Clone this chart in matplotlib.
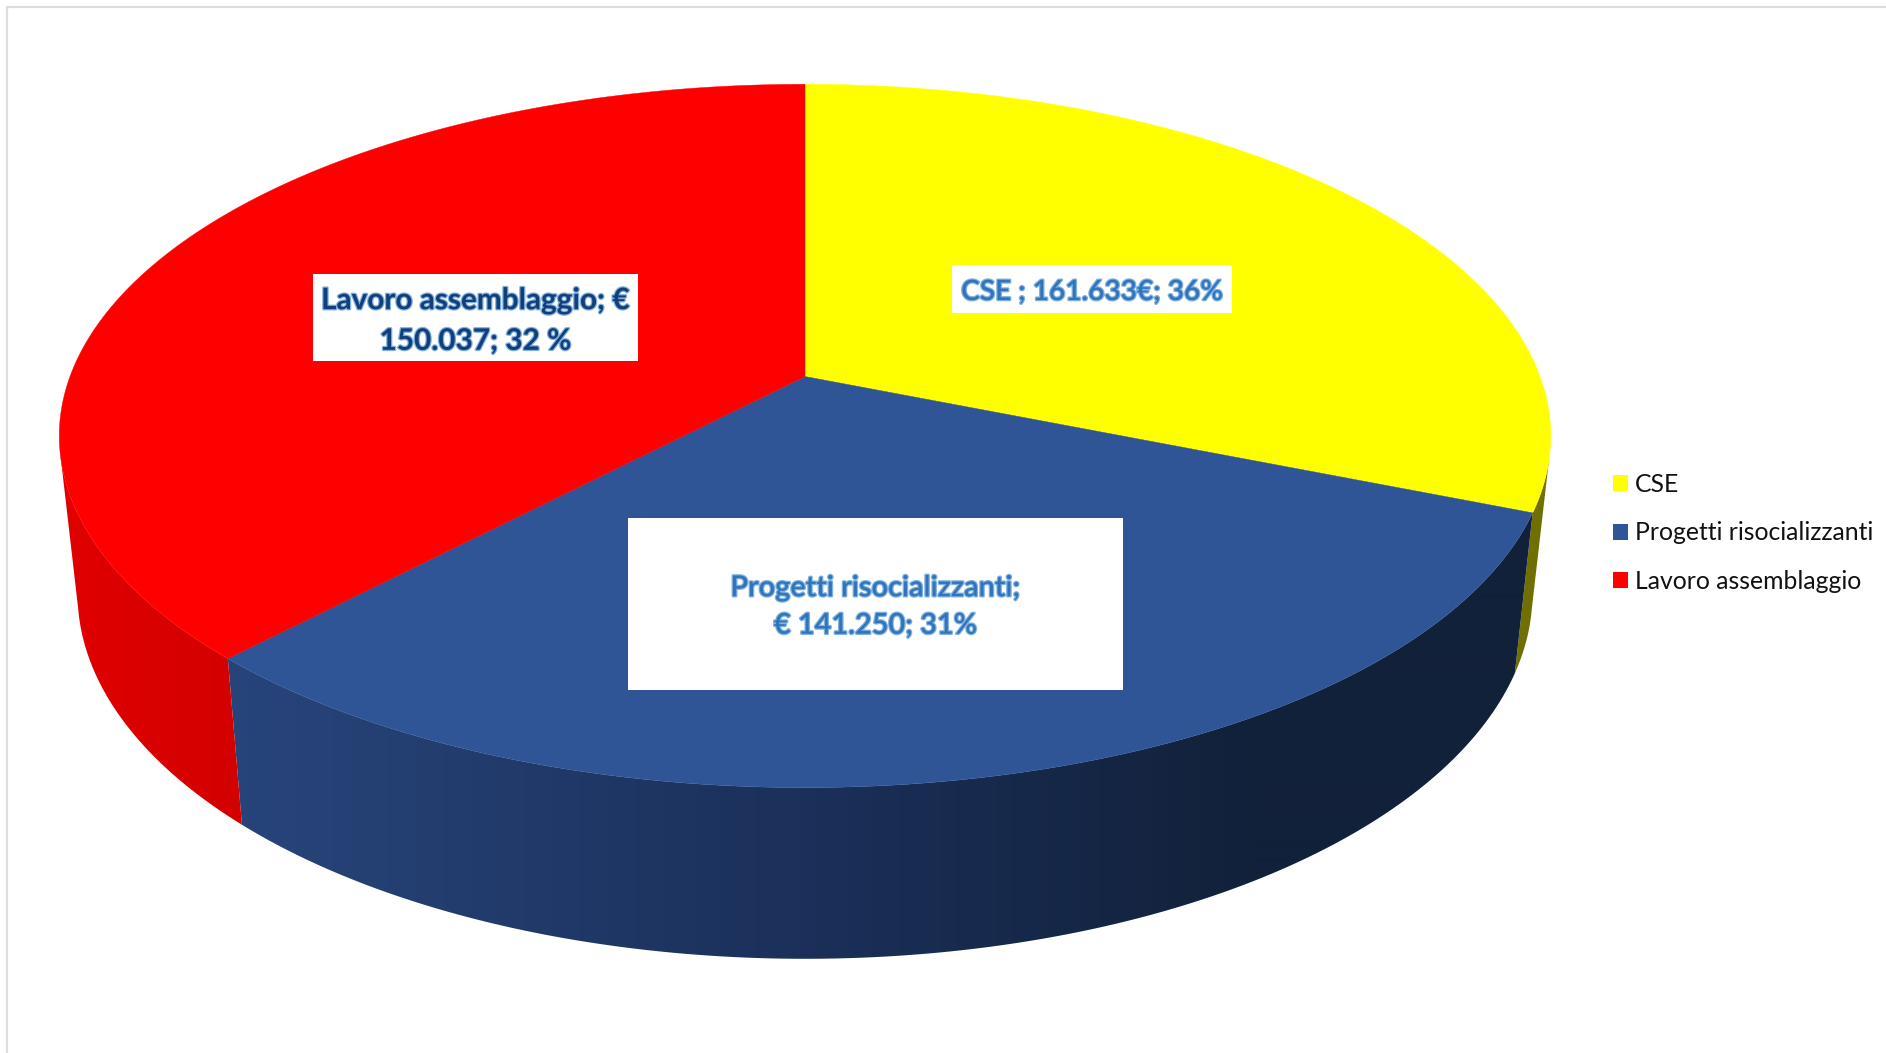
import numpy as np
import matplotlib
matplotlib.use('Agg')
import matplotlib.pyplot as plt
import matplotlib.patheffects as pe
from matplotlib.patches import Patch, Polygon, Rectangle

# shares as drawn in the picture (the typed labels say something else)
categories = ['CSE', 'Progetti risocializzanti', 'Lavoro assemblaggio']
shares = [31.1, 31.0, 37.9]
top_colors = ['#FFFF00', '#2F5597', '#FF0000']
labels = ['CSE ; 161.633€; 36%',
          'Progetti risocializzanti;\n€ 141.250; 31%',
          'Lavoro assemblaggio; €\n150.037; 32 %']

# wall shading from left to right of the picture
wall_x = [60, 250, 800, 1250, 1520]
wall_rgb = [
    [(112, 112, 0)] * 5,
    [(39, 68, 122), (39, 68, 122), (27, 48, 90), (18, 33, 58), (18, 33, 58)],
    [(225, 0, 0), (210, 0, 0), (200, 0, 0), (200, 0, 0), (200, 0, 0)],
]

plt.rcParams['font.family'] = ['Lato', 'DejaVu Sans']

W, H = 1886, 1053
fig = plt.figure(figsize=(W / 100, H / 100), dpi=100)
ax = fig.add_axes([0, 0, 1, 1])


def project(angle, x0, y0, a, b, k=0.169):
    # angle in degrees clockwise from 12 o'clock, perspective view of a disc
    t = np.radians(angle)
    X, Y = np.sin(t), -np.cos(t)
    return x0 + a * X / (1 - k * Y), y0 + b * Y / (1 - k * Y)


def top_ring(angle):
    return project(angle, 805, 376.5, 735, 341.6)


def bottom_ring(angle):
    return project(angle, 805, 531.6, 717, 355)


edges = np.concatenate([[0], np.cumsum(shares)]) / np.sum(shares) * 360

# side walls first, cut where the disc edge turns away from the viewer
xs = np.arange(0, W)
for i in range(3):
    a1, a2 = max(edges[i], 102), min(edges[i + 1], 258)
    ang = np.linspace(a1, a2, 300)
    tx, ty = top_ring(ang)
    bx, by = bottom_ring(ang)
    outline = Polygon(np.c_[np.r_[tx, bx[::-1]], np.r_[ty, by[::-1]]], fc='none', ec='none',
                      transform=ax.transData)
    ax.add_patch(outline)
    rgb = np.array(wall_rgb[i], dtype=float)
    strip = np.stack([np.interp(xs, wall_x, rgb[:, c]) for c in range(3)], axis=1) / 255
    im = ax.imshow(strip[np.newaxis, :, :], extent=(0, W, H, 0), aspect='auto', interpolation='bilinear')
    im.set_clip_path(outline)

ax.set_xlim(0, W)
ax.set_ylim(H, 0)
ax.axis('off')

# frame of the chart area
ax.plot([7, 7, W], [H, 7, 7], color='#DDDDDD', lw=1.6)

# top face
for i in range(3):
    ang = np.linspace(edges[i], edges[i + 1], 300)
    x, y = top_ring(ang)
    ax.fill(np.r_[805, x], np.r_[376.5, y], color=top_colors[i], lw=0.3)

# data labels on white boxes
boxes = [(952, 265, 280, 48), (628, 518, 495, 172), (313, 274, 325, 87)]
fills = ['#3274BC', '#3274BC', '#123F7C']
sizes = [20.2, 20.8, 21.4]
weights = ['semibold', 'semibold', 'bold']
shift = [3, 3, 3]
for i, lab in enumerate(labels):
    bx, by, bw, bh = boxes[i]
    ax.add_patch(Rectangle((bx, by), bw, bh, fc='white', ec='none', zorder=3))
    ax.text(bx + bw / 2, by + bh / 2 + shift[i], lab, ha='center', va='center', fontsize=sizes[i],
            fontweight=weights[i], color=fills[i], linespacing=1.55, zorder=4,
            path_effects=[pe.withStroke(linewidth=1.8, foreground='#7FB2E0')])

handles = [Patch(fc=c, ec='none') for c in top_colors]
ax.legend(handles, categories, loc='center left', bbox_to_anchor=(1613 / W, 1 - 533 / H),
          frameon=False, fontsize=17.8, handlelength=0.6, handleheight=0.6,
          handletextpad=0.28, labelspacing=1.03, borderpad=0, borderaxespad=0, labelcolor='#111111')

fig.savefig('out.png', dpi=100, facecolor='w')
plt.close()
